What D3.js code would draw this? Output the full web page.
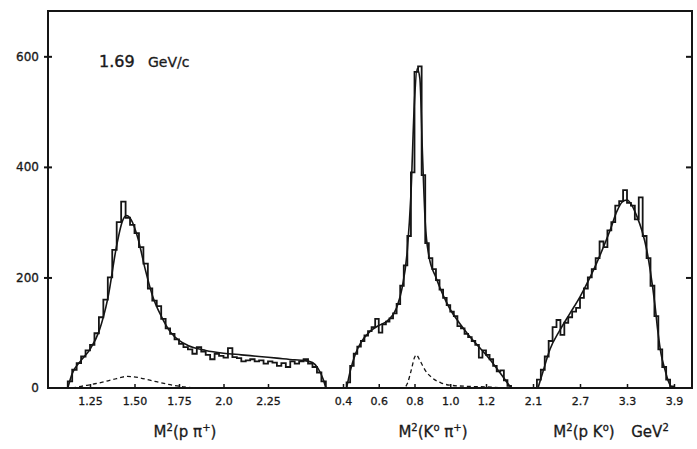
<!DOCTYPE html>
<html>
<head>
<meta charset="utf-8">
<script src="https://cdn.jsdelivr.net/npm/d3@7"></script>
<style>
  html, body { margin: 0; padding: 0; background: #fff; }
  svg { display: block; }
  text { font-family: "DejaVu Sans", sans-serif; fill: #1a1a1a; }
</style>
</head>
<body>
<svg id="chart" width="697" height="449"></svg>
<script>
// ---------- data ----------
const yTickValues = [0, 200, 400, 600];

// panel 1: M^2(p pi+)
const ppiTicks = [1.25, 1.5, 1.75, 2.0, 2.25];
const ppiTickLabels = ["1.25", "1.50", "1.75", "2.0", "2.25"];
const ppiBinStart = 1.125, ppiBinWidth = 0.025;
const ppiCounts = [12,33,45,57,68,78,99,128,160,200,250,300,337,308,295,280,255,225,180,158,
                   148,125,108,98,88,80,74,70,62,74,66,60,52,62,58,55,72,56,54,48,
                   50,52,48,50,44,48,46,40,45,38,48,44,48,52,44,38,28,12];
const ppiFitX = [1.125,1.15,1.2,1.25,1.3,1.35,1.4,1.43,1.455,1.48,1.52,1.56,1.6,1.65,1.7,1.75,1.8,1.9,2.0,2.1,2.2,2.3,2.4,2.45,2.5,2.53,2.56,2.575];
const ppiFitY = [0,26,50,70,102,162,258,300,312,305,270,215,168,130,102,86,77,68,63,60,57,54,51,50,46,36,16,0];
const ppiDashX = [1.15,1.2,1.3,1.4,1.46,1.52,1.6,1.7,1.78,1.9,2.0];
const ppiDashY = [0,3,9,17,21,19,13,6,2,0,0];

// panel 2: M^2(K0 pi+)
const kpiTicks = [0.4, 0.6, 0.8, 1.0, 1.2];
const kpiTickLabels = ["0.4", "0.6", "0.8", "1.0", "1.2"];
const kpiBinStart = 0.42, kpiBinWidth = 0.02;
const kpiCounts = [10,40,62,75,85,95,103,110,125,100,115,120,126,135,152,185,222,275,390,572,
                   582,385,262,235,215,195,178,163,150,138,130,112,108,98,92,85,78,55,68,60,
                   52,40,30,32,14,4];
const kpiFitX = [0.42,0.44,0.47,0.5,0.55,0.6,0.65,0.7,0.73,0.76,0.78,0.8,0.815,0.83,0.845,0.86,0.88,0.92,0.96,1.0,1.05,1.1,1.15,1.2,1.25,1.3,1.33,1.345];
const kpiFitY = [0,30,62,82,102,113,122,145,180,250,350,520,578,560,420,300,240,200,168,142,118,97,78,60,40,18,5,0];
const kpiDashX = [0.56,0.74,0.76,0.78,0.80,0.81,0.83,0.86,0.9,0.95,1.0,1.1,1.2,1.3];
const kpiDashY = [0,0,8,30,55,60,50,32,18,9,5,3,2,0];

// panel 3: M^2(p K0)
const pkTicks = [2.1, 2.7, 3.3, 3.9];
const pkTickLabels = ["2.1", "2.7", "3.3", "3.9"];
const pkBinStart = 2.15, pkBinWidth = 0.05;
const pkCounts = [15,33,57,85,110,123,96,118,128,138,145,163,180,200,215,235,265,255,285,300,
                  330,338,358,335,330,305,345,275,235,185,130,70,38,15,3];
const pkFitX = [2.164,2.228,2.317,2.445,2.572,2.70,2.828,2.955,3.083,3.172,3.236,3.30,3.364,3.428,3.49,3.552,3.594,3.657,3.696,3.734,3.785,3.823,3.871];
const pkFitY = [0,30,70,105,135,165,200,240,285,320,336,340,330,310,285,250,215,150,100,62,33,14,0];

const momentumLabel = ["1.69", "GeV/c"];
const axisTitles = [
  {parts: [["M",0],["2",1],["(p π",0],["+",1],[")",0]]},
  {parts: [["M",0],["2",1],["(K",0],["o",1],[" π",0],["+",1],[")",0]]},
  {parts: [["M",0],["2",1],["(p K",0],["o",1],[")",0]]},
  {parts: [["GeV",0],["2",1]]}
];

// ---------- layout ----------
const svg = d3.select("#chart");
const padL = 48, padR = 692, padT = 11, padB = 388;
const ink = "#151515";

const y = d3.scaleLinear().domain([0, 682]).range([padB, padT]);
const x1 = d3.scaleLinear().domain([1.25, 2.25]).range([90, 268]);
const x2 = d3.scaleLinear().domain([0.4, 1.2]).range([343, 486]);
const x3 = d3.scaleLinear().domain([2.1, 3.9]).range([533, 674]);

svg.append("rect").attr("width", 697).attr("height", 449).attr("fill", "#fff");

// frame
svg.append("rect")
  .attr("x", padL).attr("y", padT)
  .attr("width", padR - padL).attr("height", padB - padT)
  .attr("fill", "none").attr("stroke", ink).attr("stroke-width", 2);

// left axis
const yAxis = svg.append("g").attr("transform", `translate(${padL},0)`)
  .call(d3.axisLeft(y).tickValues(yTickValues).tickSizeInner(4).tickSizeOuter(0).tickPadding(5));
yAxis.select(".domain").remove();
yAxis.selectAll(".tick line").attr("x1", 4).attr("x2", -4).attr("stroke", ink).attr("stroke-width", 2);
yAxis.selectAll(".tick text").style("font-size", "12px").attr("fill", ink)
  .style("stroke", ink).style("stroke-width", 0.3);
yAxis.selectAll(".tick").filter(d => d === 0).select("line").remove();

// right axis
const yAxisR = svg.append("g").attr("transform", `translate(${padR},0)`)
  .call(d3.axisRight(y).tickValues(yTickValues.filter(d => d > 0)).tickSizeInner(-6).tickSizeOuter(0).tickFormat(""));
yAxisR.select(".domain").remove();
yAxisR.selectAll(".tick line").attr("stroke", ink).attr("stroke-width", 2);

// bottom axes
function bottomAxis(scale, ticks, labels) {
  const g = svg.append("g").attr("transform", `translate(0,${padB})`)
    .call(d3.axisBottom(scale).tickValues(ticks).tickSizeInner(-4).tickSizeOuter(0).tickPadding(9)
      .tickFormat((d, i) => labels[i]));
  g.select(".domain").remove();
  g.selectAll(".tick line").attr("stroke", ink).attr("stroke-width", 1.5);
  g.selectAll(".tick text").style("font-size", "11px").attr("fill", ink)
    .style("stroke", ink).style("stroke-width", 0.3);
}
bottomAxis(x1, ppiTicks, ppiTickLabels);
bottomAxis(x2, kpiTicks, kpiTickLabels);
bottomAxis(x3, pkTicks, pkTickLabels);

// histograms
function histPoints(start, width, counts) {
  const pts = [[start, 0]];
  counts.forEach((c, i) => pts.push([start + i * width, c]));
  pts.push([start + counts.length * width, 0]);
  return pts;
}
function drawPanel(xs, start, width, counts, fitX, fitY, dashX, dashY) {
  const stepLine = d3.line().x(d => xs(d[0])).y(d => y(d[1])).curve(d3.curveStepAfter);
  svg.append("path").attr("d", stepLine(histPoints(start, width, counts)))
    .attr("fill", "none").attr("stroke", ink).attr("stroke-width", 1.8).attr("stroke-linejoin", "miter");
  const smooth = d3.line().x(d => xs(d[0])).y(d => y(d[1])).curve(d3.curveMonotoneX);
  svg.append("path").attr("d", smooth(fitX.map((v, i) => [v, fitY[i]])))
    .attr("fill", "none").attr("stroke", ink).attr("stroke-width", 1.6);
  if (dashX) {
    svg.append("path").attr("d", smooth(dashX.map((v, i) => [v, dashY[i]])))
      .attr("fill", "none").attr("stroke", ink).attr("stroke-width", 1.3).attr("stroke-dasharray", "4,3");
  }
}
drawPanel(x1, ppiBinStart, ppiBinWidth, ppiCounts, ppiFitX, ppiFitY, ppiDashX, ppiDashY);
drawPanel(x2, kpiBinStart, kpiBinWidth, kpiCounts, kpiFitX, kpiFitY, kpiDashX, kpiDashY);
drawPanel(x3, pkBinStart, pkBinWidth, pkCounts, pkFitX, pkFitY, null, null);

// momentum label
svg.append("text").attr("x", 99).attr("y", 67).style("font-size", "16px")
  .style("stroke", "#1a1a1a").style("stroke-width", 0.4)
  .text(momentumLabel[0]);
svg.append("text").attr("x", 148).attr("y", 67).style("font-size", "14px")
  .style("stroke", "#1a1a1a").style("stroke-width", 0.3)
  .text(momentumLabel[1]);

// axis titles
const titlePos = [[185, 437], [433, 437], [584, 437], [650, 437]];
axisTitles.forEach((t, i) => {
  const txt = svg.append("text").attr("x", titlePos[i][0]).attr("y", titlePos[i][1])
    .attr("text-anchor", "middle").style("font-size", "15px")
    .style("stroke", "#1a1a1a").style("stroke-width", 0.3);
  let prevSup = 0;
  t.parts.forEach(([s, sup]) => {
    const ts = txt.append("tspan").text(s);
    if (sup && !prevSup) ts.attr("dy", -6).style("font-size", "10px");
    else if (!sup && prevSup) ts.attr("dy", 6);
    else if (sup) ts.style("font-size", "10px");
    prevSup = sup;
  });
});
</script>
</body>
</html>
